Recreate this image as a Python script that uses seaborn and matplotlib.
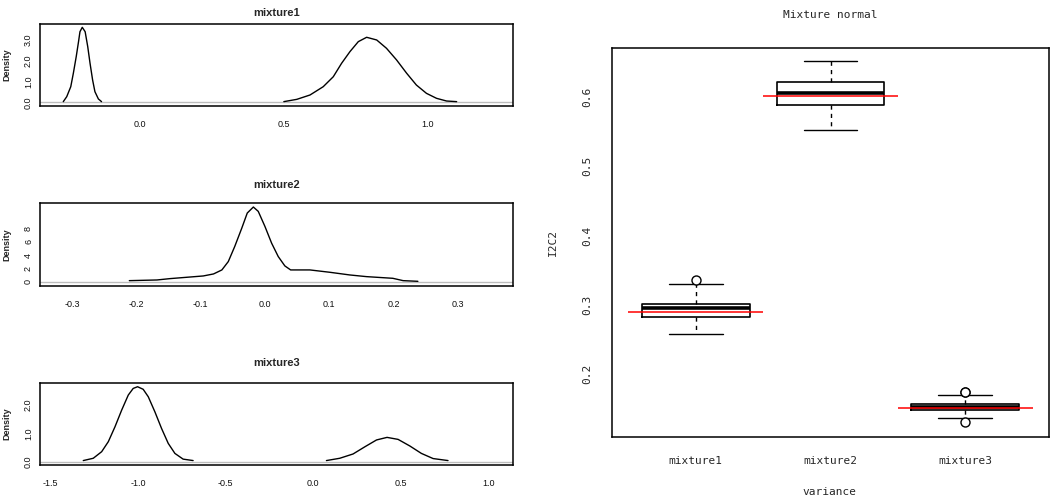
import numpy as np
import matplotlib
matplotlib.use("Agg")
import matplotlib.pyplot as plt
import seaborn as sns

# ---------------------------------------------------------------------------
# Density curves (each bump is its own line)
# ---------------------------------------------------------------------------
mix1_a_x = [-0.267, -0.255, -0.241, -0.232, -0.222, -0.214, -0.209, -0.201,
            -0.191, -0.182, -0.174, -0.165, -0.157, -0.145, -0.134]
mix1_a_y = [0.03, 0.27, 0.75, 1.40, 2.20, 2.92, 3.40, 3.61,
            3.40, 2.68, 1.88, 1.07, 0.51, 0.16, 0.03]
mix1_b_x = [0.500, 0.545, 0.591, 0.637, 0.672, 0.701, 0.730, 0.759, 0.788,
            0.823, 0.857, 0.892, 0.927, 0.961, 0.996, 1.031, 1.066, 1.101]
mix1_b_y = [0.03, 0.14, 0.35, 0.75, 1.23, 1.88, 2.44, 2.92, 3.13,
            3.00, 2.60, 2.04, 1.40, 0.83, 0.43, 0.19, 0.06, 0.03]

mix2_x = [-0.211, -0.168, -0.148, -0.122, -0.096, -0.080, -0.067, -0.057,
          -0.047, -0.036, -0.0275, -0.018, -0.0104, 0.000, 0.0104, 0.0207,
          0.031, 0.040, 0.070, 0.101, 0.132, 0.158, 0.199, 0.215, 0.238]
mix2_y = [0.2, 0.3, 0.5, 0.7, 0.9, 1.2, 1.8, 3.05,
          5.3, 8.05, 10.3, 11.2, 10.55, 8.3, 5.8, 3.8,
          2.4, 1.8, 1.8, 1.45, 1.05, 0.8, 0.55, 0.2, 0.1]

mix3_a_x = [-1.312, -1.255, -1.207, -1.169, -1.131, -1.093, -1.055, -1.027,
            -1.002, -0.970, -0.941, -0.903, -0.865, -0.827, -0.789, -0.742,
            -0.685]
mix3_a_y = [0.05, 0.13, 0.36, 0.71, 1.23, 1.81, 2.34, 2.57,
            2.63, 2.54, 2.28, 1.75, 1.17, 0.65, 0.30, 0.10,
            0.05]
mix3_b_x = [0.076, 0.152, 0.228, 0.295, 0.362, 0.422, 0.485, 0.552,
            0.618, 0.685, 0.770]
mix3_b_y = [0.05, 0.13, 0.28, 0.53, 0.77, 0.86, 0.79, 0.56,
            0.30, 0.12, 0.05]

# ---------------------------------------------------------------------------
# Boxplot summary
# ---------------------------------------------------------------------------
groups = ["mixture1", "mixture2", "mixture3"]
whis_lo = [0.2571, 0.553, 0.1365]
q1 = [0.2822, 0.5885, 0.148]
medians = [0.2957, 0.606, 0.1528]
q3 = [0.3014, 0.621, 0.1567]
whis_hi = [0.3293, 0.652, 0.1701]
fliers = [[0.336], [], [0.1745, 0.1735, 0.130]]
true_vals = [0.2889, 0.6014, 0.1505]

sns.set_style("white")
plt.rcParams["font.family"] = ["Liberation Sans", "DejaVu Sans"]

fig = plt.figure(figsize=(10.5, 4.99), dpi=100)
W, H = 1050.0, 499.0


def px_axes(x0, y0, x1, y1):
    return fig.add_axes([x0 / W, 1 - y1 / H, (x1 - x0) / W, (y1 - y0) / H])


def style_box(ax, lw=1.0):
    for s in ax.spines.values():
        s.set_visible(True)
        s.set_color("black")
        s.set_linewidth(lw)


# (axes pixel box, title centre y, curves, limits, ticks)
left_panels = [
    dict(box=(40, 24, 513, 106), title="mixture1", ty=13,
         curves=[(mix1_a_x, mix1_a_y), (mix1_b_x, mix1_b_y)],
         xlim=(-0.348, 1.297), ylim=(-0.18, 3.77),
         xticks=[0.0, 0.5, 1.0], xlabels=["0.0", "0.5", "1.0"],
         yticks=[0, 0.5, 1, 1.5, 2, 2.5, 3, 3.5],
         ylabels=["0.0", "", "1.0", "", "2.0", "", "3.0", ""]),
    dict(box=(40, 203, 513, 286), title="mixture2", ty=185,
         curves=[(mix2_x, mix2_y)],
         xlim=(-0.35, 0.386), ylim=(-0.6, 11.8),
         xticks=[-0.3, -0.2, -0.1, 0.0, 0.1, 0.2, 0.3],
         xlabels=["-0.3", "-0.2", "-0.1", "0.0", "0.1", "0.2", "0.3"],
         yticks=[0, 2, 4, 6, 8, 10],
         ylabels=["0", "2", "4", "6", "8", ""]),
    dict(box=(40, 383, 513, 465), title="mixture3", ty=363,
         curves=[(mix3_a_x, mix3_a_y), (mix3_b_x, mix3_b_y)],
         xlim=(-1.559, 1.141), ylim=(-0.105, 2.76),
         xticks=[-1.5, -1.0, -0.5, 0.0, 0.5, 1.0],
         xlabels=["-1.5", "-1.0", "-0.5", "0.0", "0.5", "1.0"],
         yticks=[0, 0.5, 1, 1.5, 2, 2.5],
         ylabels=["0.0", "", "1.0", "", "2.0", ""]),
]

for p in left_panels:
    x0, y0, x1, y1 = p["box"]
    ax = px_axes(x0, y0, x1, y1)
    ax.axhline(0, color="#bdbdbd", lw=1.0, zorder=1)
    for cx, cy in p["curves"]:
        sns.lineplot(x=cx, y=cy, ax=ax, color="black", lw=1.0,
                     sort=False, estimator=None, zorder=2)
    ax.set_xlim(*p["xlim"])
    ax.set_ylim(*p["ylim"])
    ax.set_xticks(p["xticks"])
    ax.set_xticklabels(p["xlabels"], fontsize=6.5)
    ax.set_yticks(p["yticks"])
    ax.set_yticklabels(p["ylabels"], fontsize=6.5, rotation=90, va="center")
    ax.tick_params(axis="both", colors="black", labelcolor="#111111")
    ax.tick_params(axis="x", direction="out", length=4, width=0.8, pad=6)
    ax.tick_params(axis="y", direction="out", length=4, width=0.8, pad=1)
    ax.set_xlabel("")
    ax.set_ylabel("")
    style_box(ax, 1.1)
    fig.text((x0 + x1) / 2 / W, 1 - p["ty"] / H, p["title"], ha="center",
             va="center", fontsize=8, fontweight="bold")
    fig.text(7 / W, 1 - (y0 + y1) / 2 / H, "Density", rotation=90,
             ha="center", va="center", fontsize=6.5, fontweight="bold")

# ---------------------------------------------------------------------------
# Right panel: boxplots
# ---------------------------------------------------------------------------
mono = ["DejaVu Sans Mono", "Liberation Mono"]
axr = px_axes(612, 48, 1049, 437)
pos = np.arange(len(groups))
stats = []
for i, g in enumerate(groups):
    stats.append(dict(label=g, whislo=whis_lo[i], q1=q1[i], med=medians[i],
                      q3=q3[i], whishi=whis_hi[i], fliers=fliers[i]))
axr.bxp(stats, positions=pos, widths=0.8, capwidths=0.4, showfliers=True,
        boxprops=dict(color="black", lw=1.2),
        medianprops=dict(color="black", lw=2.6),
        whiskerprops=dict(color="black", lw=1.0, linestyle=(0, (3, 3))),
        capprops=dict(color="black", lw=1.0),
        flierprops=dict(marker="o", markerfacecolor="white",
                        markeredgecolor="black", markersize=6.5,
                        markeredgewidth=1.0))
axr.hlines(true_vals, pos - 0.5, pos + 0.5, color="red", lw=1.1, zorder=5)
axr.set_xlim(-0.62, 2.62)
axr.set_ylim(0.109, 0.6707)
axr.set_yticks([0.2, 0.3, 0.4, 0.5, 0.6])
axr.set_yticklabels(["0.2", "0.3", "0.4", "0.5", "0.6"], rotation=90,
                    va="center", family=mono, fontsize=8)
axr.set_xticks(pos)
axr.set_xticklabels(groups, family=mono, fontsize=8)
axr.tick_params(axis="y", direction="out", length=6.5, width=0.9, pad=8)
axr.tick_params(axis="x", direction="out", length=6.5, width=0.9, pad=7)
style_box(axr, 1.1)

fig.text(830.5 / W, 1 - 15 / H, "Mixture normal", ha="center", va="center",
         family=mono, fontsize=8)
fig.text(553 / W, 1 - 242 / H, "I2C2", rotation=90, ha="center",
         va="center", family=mono, fontsize=8)
fig.text(829 / W, 1 - 492 / H, "variance", ha="center", va="center",
         family=mono, fontsize=8)

fig.savefig("out.png", dpi=100)
